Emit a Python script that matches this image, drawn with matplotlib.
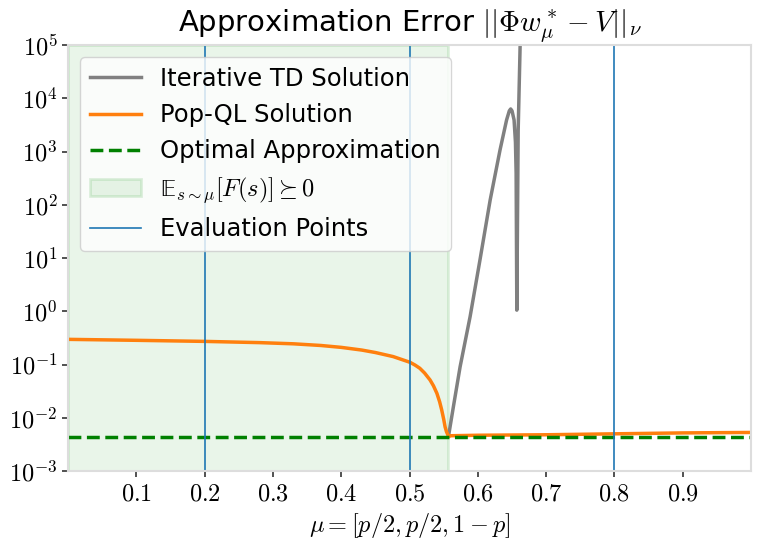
import numpy as np
import matplotlib
matplotlib.use('Agg')
import matplotlib.pyplot as plt

plt.rcParams['mathtext.fontset'] = 'cm'
plt.rcParams['font.family'] = ['DejaVu Sans']

# Pop-QL solution
popql_x = [0.001, 0.1, 0.2, 0.28, 0.33, 0.37, 0.40, 0.43, 0.45, 0.476, 0.5007,
           0.508, 0.515, 0.522, 0.53, 0.535, 0.54, 0.544, 0.547, 0.55, 0.552,
           0.554, 0.556, 0.558, 0.56, 0.6, 0.7, 0.8, 0.9, 0.998]
popql_y = [0.297, 0.285, 0.272, 0.258, 0.245, 0.228, 0.21, 0.187, 0.168, 0.141, 0.110,
           0.0977, 0.0851, 0.0692, 0.0513, 0.0398, 0.0288, 0.0200, 0.0141, 0.00933, 0.00676,
           0.00550, 0.00479, 0.00447, 0.0046, 0.0047, 0.0048, 0.0050, 0.0052, 0.0053]

# Iterative TD solution
td_x = [0.557, 0.5641, 0.574, 0.5886, 0.603, 0.618, 0.6325, 0.642, 0.646, 0.648, 0.650,
        0.653, 0.655, 0.656, 0.657, 0.659, 0.662, 0.664]
td_y = [0.0045, 0.016, 0.091, 0.79, 9.1, 123, 1080, 3900, 5800, 6300, 5800,
        3900, 1500, 390, 1.05, 2500, 1.2e5, 1.0e6]

optimal = 0.0044
feasible_end = 0.556
eval_points = [0.2, 0.5, 0.8]

xticks = [0.1, 0.2, 0.3, 0.4, 0.5, 0.6, 0.7, 0.8, 0.9]
yticks = [1e-3, 1e-2, 1e-1, 1e0, 1e1, 1e2, 1e3, 1e4, 1e5]

fs = 17.5
fig = plt.figure(figsize=(7.61, 5.49), dpi=100)
ax = fig.add_axes([0.0894, 0.142, 0.8976, 0.776])

ax.plot(td_x, td_y, color='gray', lw=2.5, label='Iterative TD Solution')
ax.plot(popql_x, popql_y, color='tab:orange', lw=2.5, label='Pop-QL Solution')
ax.axhline(optimal, color='green', ls='--', lw=2.5, label='Optimal Approximation')
ax.axvspan(0, feasible_end, facecolor=(0.17, 0.63, 0.17, 0.1),
           edgecolor=(0.17, 0.63, 0.17, 0.15), lw=2,
           label='$\U0001D53C_{s\\sim\\mu}[F(s)] \\succeq 0$')
for i, p in enumerate(eval_points):
    ax.axvline(p, color='tab:blue', lw=1.2, label='Evaluation Points' if i == 0 else None)

ax.set_yscale('log')
ax.set_xlim(0, 1)
ax.set_ylim(1e-3, 1e5)
ax.set_yticks(yticks)
ax.set_yticklabels([r'$10^{%d}$' % int(np.log10(v)) for v in yticks])
ax.yaxis.set_minor_locator(matplotlib.ticker.NullLocator())
ax.set_xticks(xticks)
ax.set_xticklabels([r'$%.1f$' % v for v in xticks])
ax.tick_params(labelsize=fs, length=4, width=1.2, color='#333333')
for s in ax.spines.values():
    s.set_color('#dddddd')
    s.set_linewidth(1.5)

ax.set_title(r'Approximation Error $||\Phi w_\mu^* - V||_\nu$', fontsize=21)
ax.set_xlabel(r'$\mu = [p/2, p/2, 1-p]$', fontsize=fs)
ax.legend(loc='upper left', fontsize=fs, borderaxespad=0.5, handlelength=2.1)

fig.savefig('out.png', dpi=100)
